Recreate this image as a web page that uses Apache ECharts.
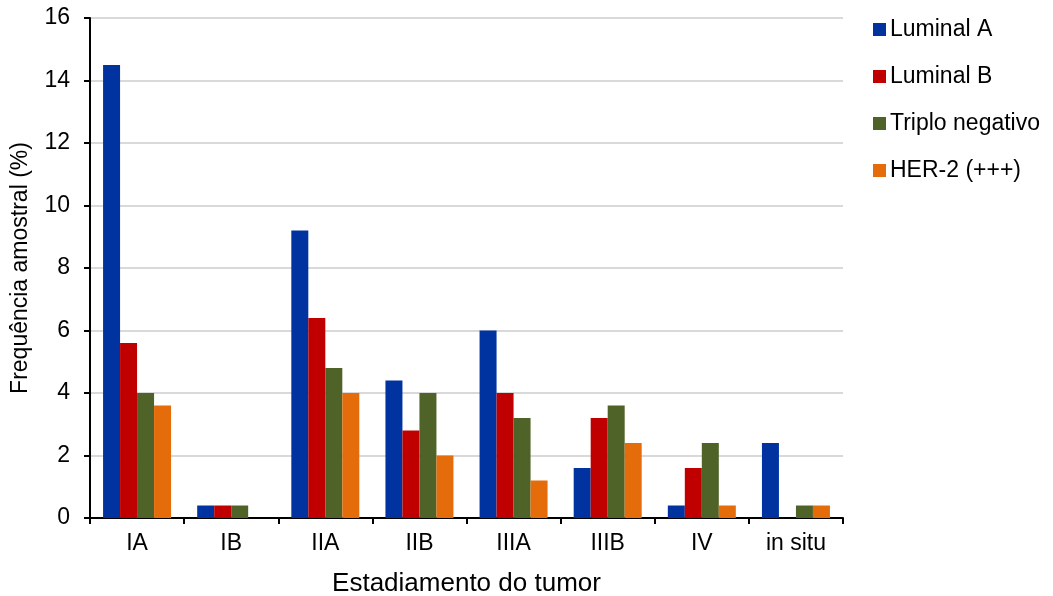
<!DOCTYPE html>
<html>
<head>
<meta charset="utf-8">
<script src="https://cdn.jsdelivr.net/npm/echarts@6/dist/echarts.min.js"></script>
<style>
  html, body { margin: 0; padding: 0; background: #fff; }
  #chart { width: 1053px; height: 596px; }
</style>
</head>
<body>
<div id="chart"></div>
<script>
// Tumour stages on the x axis
const categories = ['IA', 'IB', 'IIA', 'IIB', 'IIIA', 'IIIB', 'IV', 'in situ'];

// Sample frequency (%) per molecular subtype
const luminalA = [14.5, 0.4, 9.2, 4.4, 6.0, 1.6, 0.4, 2.4];
const luminalB = [5.6, 0.4, 6.4, 2.8, 4.0, 3.2, 1.6, 0];
const triploNegativo = [4.0, 0.4, 4.8, 4.0, 3.2, 3.6, 2.4, 0.4];
const her2 = [3.6, 0, 4.0, 2.0, 1.2, 2.4, 0.4, 0.4];

const seriesNames = ['Luminal A', 'Luminal B', 'Triplo negativo', 'HER-2 (+++)'];
const seriesColors = ['#0033A0', '#C00000', '#4F6228', '#E46C0A'];
const seriesData = [luminalA, luminalB, triploNegativo, her2];

const FONT = 'Liberation Sans, Arial, sans-serif';

const chart = echarts.init(document.getElementById('chart'), null, { renderer: 'canvas' });

chart.setOption({
  animation: false,
  backgroundColor: '#ffffff',
  textStyle: { fontFamily: FONT },
  grid: {
    left: 90, top: 18, width: 753, height: 500,
    containLabel: false,
    outerBoundsMode: 'none'
  },
  legend: {
    orient: 'vertical',
    left: 868,
    top: 13,
    itemWidth: 13,
    itemHeight: 13,
    itemGap: 24,
    icon: 'rect',
    textStyle: { fontFamily: FONT, fontSize: 23, color: '#000', padding: [0, 0, 0, -1] },
    data: seriesNames
  },
  xAxis: {
    type: 'category',
    data: categories,
    name: 'Estadiamento do tumor',
    nameLocation: 'middle',
    nameGap: 53,
    nameTextStyle: { fontFamily: FONT, fontSize: 26, color: '#000' },
    axisLine: { lineStyle: { color: '#000', width: 2 } },
    axisTick: { show: true, length: 6, lineStyle: { color: '#000', width: 2 } },
    axisLabel: { fontFamily: FONT, fontSize: 23, color: '#000', margin: 14 }
  },
  yAxis: {
    type: 'value',
    min: 0,
    max: 16,
    interval: 2,
    name: 'Frequência amostral (%)',
    nameLocation: 'middle',
    nameGap: 58,
    nameTextStyle: { fontFamily: FONT, fontSize: 23, color: '#000' },
    axisLine: { show: true, lineStyle: { color: '#000', width: 2 } },
    axisTick: { show: true, length: 6, lineStyle: { color: '#000', width: 2 } },
    axisLabel: { fontFamily: FONT, fontSize: 23, color: '#000', margin: 20 },
    splitLine: { show: true, lineStyle: { color: '#d9d9d9', width: 2 } }
  },
  series: seriesNames.map((name, i) => ({
    name: name,
    type: 'bar',
    data: seriesData[i],
    barWidth: 17,
    barGap: '0%',
    itemStyle: { color: seriesColors[i] }
  }))
});
</script>
</body>
</html>
